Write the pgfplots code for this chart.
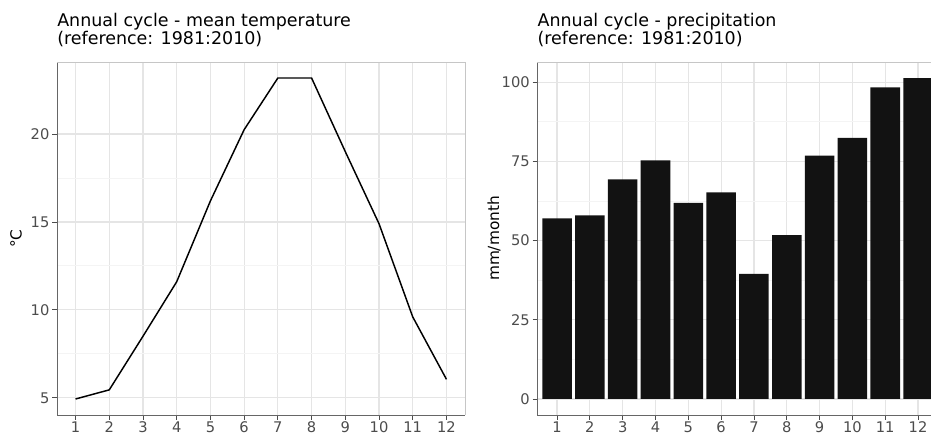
\documentclass[border=0pt]{standalone}
\usepackage{fontspec}
\setmainfont{DejaVu Sans}
\usepackage{pgfplots}
\pgfplotsset{compat=1.18}

% 1 px of the reference = 0.75pt
\pgfplotsset{
  panel/.style={
    scale only axis,
    height=264.75pt,
    axis lines*=left,
    axis line style={black!60, line width=0.6pt},
    tick align=outside,
    tick pos=left,
    major tick length=3.5pt,
    minor tick length=0pt,
    tick style={black!70, line width=0.6pt},
    grid=both,
    major grid style={gray!20, line width=0.9pt},
    minor grid style={gray!9, line width=0.7pt},
    minor y tick num=1,
    xtick={1,...,12},
    ticklabel style={font=\fontsize{11}{13}\selectfont, text=black!70},
    /pgf/number format/assume math mode=true,
    xticklabel style={inner sep=1.5pt},
    yticklabel style={inner sep=2pt},
    label style={font=\fontsize{11.5}{13}\selectfont},
    title style={at={(axis description cs:0,1)}, anchor=south west,
      yshift=5.25pt, align=left, inner sep=0pt,
      font=\fontsize{13.1}{13.5}\selectfont},
    after end axis/.code={
      \draw[gray!45, line width=0.6pt] (rel axis cs:0,1) -- (rel axis cs:1,1) -- (rel axis cs:1,0);
    },
  },
}

\begin{document}
\begin{tikzpicture}
\useasboundingbox (0,0) rectangle (698.25pt,326.25pt);

\begin{axis}[panel,
  at={(42.75pt,15pt)}, anchor=south west,
  width=306pt,
  xmin=0.45, xmax=12.55,
  ymin=4.02, ymax=24.1,
  ytick={5,10,15,20},
  title={Annual cycle - mean temperature\\(reference: 1981:2010)},
  ylabel={°C},
  ylabel style={at={(axis description cs:-0.1005,0.5)}, anchor=center},
]
\addplot[black, line width=1.1pt] coordinates {
  (1,4.93) (2,5.45) (3,8.5) (4,11.6) (5,16.2) (6,20.25)
  (7,23.19) (8,23.19) (9,19.0) (10,14.9) (11,9.6) (12,6.05)
};
\end{axis}

\begin{axis}[panel,
  at={(403pt,15pt)}, anchor=south west,
  width=300.3pt,
  xmin=0.4, xmax=12.6,
  ymin=-5.07, ymax=106.4,
  ytick={0,25,50,75,100},
  title={Annual cycle - precipitation\\(reference: 1981:2010)},
  ylabel={mm/month},
  ylabel style={at={(axis description cs:-0.108,0.5)}, anchor=center},
  ybar, bar width=0.9, bar shift=0pt,
]
\addplot[fill=black!93, draw=none] coordinates {
  (1,57.0) (2,58.0) (3,69.3) (4,75.3) (5,61.9) (6,65.2)
  (7,39.5) (8,51.7) (9,76.8) (10,82.4) (11,98.4) (12,101.3)
};
\end{axis}
\end{tikzpicture}
\end{document}
